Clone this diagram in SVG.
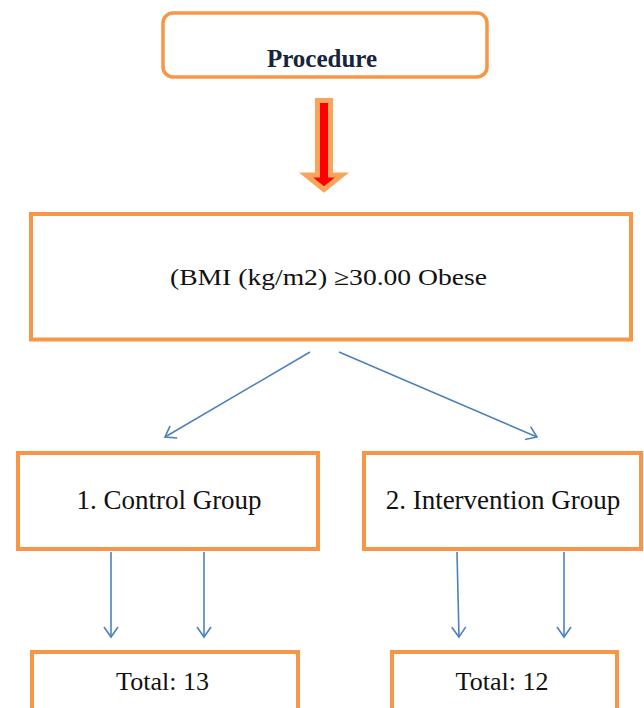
<svg xmlns="http://www.w3.org/2000/svg" width="644" height="708" viewBox="0 0 644 708">
<style>
.box{fill:#fff;stroke:#F79646;stroke-width:4}
.t{font-family:"Liberation Serif","Times New Roman",serif;fill:#111;text-anchor:middle}
.c{stroke:#4F81BD;stroke-width:1.6;fill:none;marker-end:url(#ah)}
</style>
<defs>
<marker id="ah" markerUnits="userSpaceOnUse" viewBox="-12 -9 14 18" refX="0" refY="0" markerWidth="14" markerHeight="18" orient="auto">
<path d="M-10,-7 L0,0 L-10,7" fill="none" stroke="#4F81BD" stroke-width="1.6"/>
</marker>
</defs>
<rect width="644" height="708" fill="#fff"/>
<g id="procedure">
<rect x="163" y="13" width="324" height="64" rx="10" ry="10" fill="#fff" stroke="#F79646" stroke-width="3.5"/>
<text x="322" y="67" class="t" style="font-weight:bold;font-size:25px;fill:#17243B">Procedure</text>
</g>
<g id="bigarrow">
<polygon points="317.5,100.5 330.5,100.5 330.5,175 342,175 324,189.5 306,175 317.5,175" fill="#FF0000" stroke="#F9A35B" stroke-width="5" stroke-linejoin="miter"/>
</g>
<g id="bmi">
<rect x="31" y="214" width="600" height="125.5" class="box"/>
<text x="328.5" y="285" class="t" style="font-size:23px" textLength="317" lengthAdjust="spacingAndGlyphs">(BMI (kg/m2) ≥30.00 Obese</text>
</g>
<g id="control">
<rect x="18" y="453" width="300" height="96" class="box"/>
<text x="169" y="509" class="t" style="font-size:27px">1. Control Group</text>
</g>
<g id="intervention">
<rect x="364" y="453" width="277" height="96" class="box"/>
<text x="503" y="509" class="t" style="font-size:27px">2. Intervention Group</text>
</g>
<g id="total13">
<rect x="32" y="652" width="266" height="80" class="box"/>
<text x="162.5" y="690" class="t" style="font-size:26px">Total: 13</text>
</g>
<g id="total12">
<rect x="392" y="652" width="225" height="80" class="box"/>
<text x="502" y="690" class="t" style="font-size:26px">Total: 12</text>
</g>
<g id="connectors">
<line x1="310" y1="352" x2="165" y2="437" class="c"/>
<line x1="339" y1="352" x2="537" y2="437" class="c"/>
<line x1="111" y1="552" x2="111" y2="637" class="c"/>
<line x1="204" y1="552" x2="204" y2="637" class="c"/>
<line x1="457" y1="552" x2="459" y2="637" class="c"/>
<line x1="564" y1="552" x2="564" y2="637" class="c"/>
</g>
</svg>
